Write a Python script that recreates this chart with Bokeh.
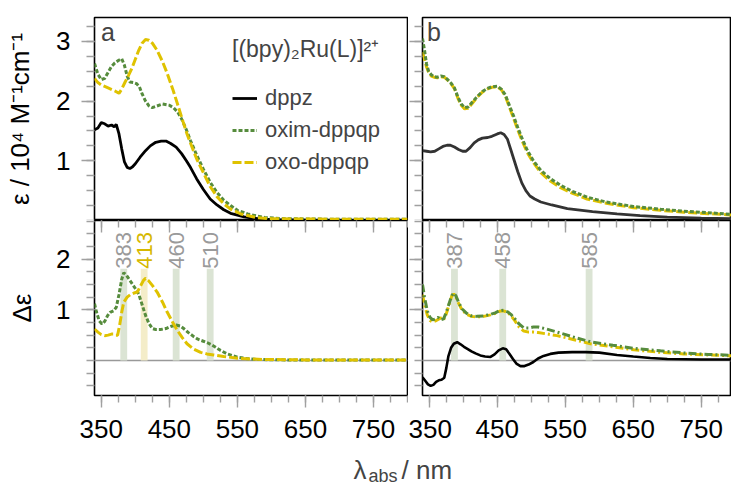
import numpy as np
from bokeh.plotting import figure
from bokeh.models import (Range1d, FixedTicker, LinearAxis, Legend, LegendItem,
                          Span, Label, ColumnDataSource)
from bokeh.layouts import column, row
from bokeh.embed import file_html
from bokeh.resources import INLINE
from bokeh.core.properties import value

# ---------------- data ----------------
# panel a : absorption, epsilon / 1e4 M^-1 cm^-1
wl_a_dppz = [340, 345, 350, 355, 360, 365, 369, 372, 376, 380, 384, 388, 392, 396, 400, 407, 415,
             422, 430, 438, 445, 452, 460, 468, 475, 481, 490, 500, 510, 520, 530, 540, 550, 560,
             580, 600, 650, 700, 750, 800]
eps_a_dppz = [1.52, 1.55, 1.64, 1.62, 1.58, 1.60, 1.57, 1.61, 1.45, 1.20, 0.98, 0.89, 0.87, 0.90,
              0.95, 1.06, 1.17, 1.25, 1.31, 1.33, 1.33, 1.29, 1.23, 1.12, 1.00, 0.89, 0.70, 0.52,
              0.36, 0.26, 0.18, 0.12, 0.09, 0.06, 0.03, 0.015, 0.005, 0.0, 0.0, 0.0]

wl_a_oxim = [340, 345, 350, 355, 360, 365, 370, 375, 380, 384, 388, 392, 397, 402, 406, 410, 415,
             420, 425, 430, 440, 450, 456, 462, 468, 475, 481, 490, 500, 510, 520, 530, 540, 550,
             565, 590, 620, 700, 800]
eps_a_oxim = [2.63, 2.45, 2.36, 2.38, 2.48, 2.58, 2.64, 2.68, 2.71, 2.60, 2.42, 2.32, 2.31, 2.29,
              2.24, 2.12, 2.00, 1.92, 1.89, 1.91, 1.95, 1.93, 1.89, 1.82, 1.70, 1.52, 1.34, 1.10,
              0.86, 0.64, 0.47, 0.34, 0.25, 0.17, 0.11, 0.05, 0.03, 0.02, 0.02]

wl_a_oxo = [340, 345, 350, 360, 370, 376, 380, 385, 390, 395, 400, 405, 410, 415, 420, 425, 432,
            440, 447, 455, 462, 470, 476, 485, 491, 500, 510, 520, 530, 540, 555, 580, 600, 700, 800]
eps_a_oxo = [2.38, 2.31, 2.27, 2.22, 2.17, 2.13, 2.20, 2.32, 2.43, 2.55, 2.70, 2.85, 2.97, 3.03,
             3.02, 2.97, 2.85, 2.66, 2.46, 2.20, 1.95, 1.66, 1.45, 1.18, 1.01, 0.80, 0.57, 0.40,
             0.28, 0.19, 0.11, 0.045, 0.03, 0.02, 0.02]

# panel b : absorption
wl_b_dppz = [340, 346, 352, 358, 364, 370, 376, 381, 387, 393, 399, 404, 410, 416, 422, 428, 436,
             442, 450, 455, 460, 465, 470, 475, 480, 486, 492, 498, 505, 514, 530, 553, 590, 626,
             660, 700, 750, 800]
eps_b_dppz = [1.17, 1.16, 1.15, 1.16, 1.20, 1.24, 1.26, 1.26, 1.23, 1.19, 1.16, 1.16, 1.22, 1.30,
              1.35, 1.38, 1.39, 1.41, 1.45, 1.47, 1.44, 1.36, 1.18, 1.00, 0.82, 0.63, 0.50, 0.41,
              0.36, 0.31, 0.26, 0.20, 0.15, 0.11, 0.08, 0.055, 0.04, 0.03]

wl_b = [340, 343, 346, 349, 353, 357, 362, 367, 372, 377, 382, 387, 392, 397, 402, 407, 413, 420,
        428, 435, 442, 450, 456, 462, 468, 474, 480, 487, 494, 503, 514, 528, 543, 560, 582, 610,
        650, 690, 724, 760, 800]
eps_b_oxim = [3.05, 2.85, 2.62, 2.50, 2.44, 2.41, 2.40, 2.42, 2.41, 2.36, 2.30, 2.22, 2.07, 1.95,
              1.89, 1.90, 1.98, 2.07, 2.16, 2.21, 2.24, 2.25, 2.20, 2.10, 1.92, 1.75, 1.56, 1.36,
              1.18, 1.00, 0.84, 0.70, 0.59, 0.49, 0.39, 0.31, 0.235, 0.19, 0.156, 0.13, 0.10]
eps_b_oxo = [2.82, 2.70, 2.57, 2.48, 2.42, 2.40, 2.39, 2.41, 2.40, 2.35, 2.29, 2.21, 2.05, 1.93,
             1.87, 1.88, 1.96, 2.06, 2.15, 2.20, 2.23, 2.24, 2.19, 2.08, 1.89, 1.71, 1.52, 1.32,
             1.14, 0.97, 0.80, 0.66, 0.55, 0.46, 0.36, 0.29, 0.215, 0.17, 0.14, 0.115, 0.09]

# panel c : CD, delta epsilon
wl_c_oxim = [340, 343, 347, 351, 355, 359, 363, 368, 372, 376, 380, 383, 387, 391, 395, 400, 405,
             410, 415, 420, 425, 430, 437, 445, 452, 460, 466, 472, 478, 485, 492, 500, 506, 512,
             518, 525, 535, 550, 565, 580, 620, 700, 800]
de_c_oxim = [1.12, 0.95, 0.78, 0.72, 0.77, 0.88, 0.95, 0.98, 1.05, 1.30, 1.60, 1.73, 1.68, 1.60,
             1.52, 1.42, 1.31, 1.10, 0.89, 0.73, 0.63, 0.61, 0.61, 0.63, 0.67, 0.70, 0.68, 0.62,
             0.55, 0.48, 0.42, 0.38, 0.35, 0.31, 0.26, 0.20, 0.13, 0.065, 0.035, 0.02, 0.012,
             0.01, 0.01]

wl_c_oxo = [340, 345, 350, 355, 360, 365, 368, 371, 374, 377, 380, 383, 388, 393, 398, 403, 408,
            412, 415, 419, 425, 432, 440, 447, 455, 462, 469, 476, 485, 496, 505, 515, 530, 550,
            570, 590, 650, 800]
de_c_oxo = [0.62, 0.56, 0.51, 0.49, 0.50, 0.52, 0.52, 0.50, 0.50, 0.70, 0.95, 1.15, 1.25, 1.30,
            1.33, 1.35, 1.48, 1.58, 1.62, 1.58, 1.48, 1.35, 1.15, 0.95, 0.75, 0.59, 0.45, 0.33,
            0.23, 0.16, 0.13, 0.11, 0.08, 0.045, 0.03, 0.02, 0.012, 0.01]

# panel d : CD
wl_d = [340, 343, 347, 351, 355, 359, 363, 367, 371, 375, 379, 383, 386, 389, 393, 398, 405, 412,
        420, 430, 440, 447, 453, 459, 465, 470, 476, 482, 489, 496, 503, 510, 520, 538, 560, 587,
        620, 651, 690, 724, 760, 800]
de_d_oxim = [1.50, 1.25, 0.98, 0.85, 0.80, 0.82, 0.85, 0.80, 0.82, 0.95, 1.12, 1.28, 1.33, 1.28,
             1.15, 1.02, 0.93, 0.88, 0.87, 0.88, 0.91, 0.94, 0.98, 0.99, 0.96, 0.91, 0.82, 0.72,
             0.64, 0.64, 0.66, 0.66, 0.63, 0.56, 0.47, 0.37, 0.30, 0.24, 0.19, 0.15, 0.12, 0.10]
de_d_oxo = [1.30, 1.10, 0.90, 0.79, 0.76, 0.78, 0.81, 0.84, 0.80, 0.92, 1.10, 1.27, 1.31, 1.26,
            1.13, 1.00, 0.91, 0.87, 0.86, 0.87, 0.90, 0.93, 0.97, 0.98, 0.95, 0.89, 0.78, 0.66,
            0.58, 0.56, 0.56, 0.55, 0.53, 0.49, 0.42, 0.33, 0.27, 0.21, 0.16, 0.13, 0.11, 0.09]

wl_d_dppz = [340, 344, 348, 352, 356, 360, 364, 368, 372, 375, 378, 382, 386, 391, 396, 401, 406,
             412, 418, 425, 432, 440, 446, 452, 458, 463, 468, 473, 478, 484, 490, 496, 503, 510,
             518, 528, 540, 560, 580, 600, 626, 650, 675, 700, 750, 800]
de_d_dppz = [-0.33, -0.40, -0.47, -0.50, -0.48, -0.42, -0.39, -0.38, -0.34, -0.15, 0.08, 0.25,
             0.33, 0.36, 0.32, 0.27, 0.23, 0.18, 0.14, 0.10, 0.08, 0.07, 0.12, 0.20, 0.24, 0.22,
             0.13, 0.03, -0.06, -0.11, -0.11, -0.08, -0.03, 0.04, 0.09, 0.13, 0.155, 0.165, 0.165,
             0.155, 0.11, 0.08, 0.05, 0.03, 0.02, 0.02]

# marked transitions
peaks_c = [383, 413, 460, 510]
peaks_c_text = ["383", "413", "460", "510"]
peaks_d = [387, 458, 585]
peaks_d_text = ["387", "458", "585"]

x_major = [350, 450, 550, 650, 750]
x_minor = [350 + 25 * i for i in range(19)]
ytop_major = [1, 2, 3]
ytop_minor = [0.25 * i for i in range(14)]
ybot_major = [1, 2]
ybot_minor = [0.25 * i for i in range(-2, 12)]

series_names = ["dppz", "oxim-dppqp", "oxo-dppqp"]

# ---------------- styling ----------------
FONT = "Liberation Sans"
GREEN = "#568c3d"
YELLOW = "#dfc200"
BLACK = "#000000"
DARK = "#333333"
TICK = "#a0a0a0"
BAND_G = "#dbe4d4"
BAND_Y = "#f4edc9"
LBL_G = "#9a9a9a"
LBL_Y = "#d6b800"
BAND_TOP = 1.81      # top of the marker bands (delta-epsilon units)
LABEL_MID = 2.17     # centre of the rotated marker labels


def panel(fw, fh, xr, yr, bl, br, bt, bb):
    p = figure(frame_width=fw, frame_height=fh, x_range=Range1d(*xr), y_range=Range1d(*yr),
               x_axis_location=None, y_axis_location=None, output_backend="svg",
               toolbar_location=None, min_border_left=bl, min_border_right=br,
               min_border_top=bt, min_border_bottom=bb)
    p.xgrid.visible = False
    p.ygrid.visible = False
    p.outline_line_color = "black"
    p.outline_line_width = 1.6
    p.outline_line_alpha = 1.0
    p.background_fill_color = "white"
    p.border_fill_color = "white"
    return p


def add_axis(p, side, major, minor, labels=True, tick_out=(13, 8), tick_in=(0, 0),
             standoff=10, title=None, title_standoff=10, title_size="25px"):
    ax = LinearAxis(ticker=FixedTicker(ticks=major, minor_ticks=minor))
    ax.axis_line_color = None
    ax.major_tick_line_color = TICK
    ax.minor_tick_line_color = TICK
    ax.major_tick_line_width = 1.4
    ax.minor_tick_line_width = 1.4
    ax.major_tick_out, ax.minor_tick_out = tick_out
    ax.major_tick_in, ax.minor_tick_in = tick_in
    if labels:
        ax.major_label_text_font = FONT
        ax.major_label_text_font_size = "26px"
        ax.major_label_text_color = "black"
        ax.major_label_standoff = standoff
    else:
        # tick marks only: labels are not painted and take no room
        ax.major_label_text_font_size = "0px"
        ax.major_label_text_color = None
        ax.major_label_standoff = 0
    if title:
        ax.axis_label = title
        ax.axis_label_text_font = FONT
        ax.axis_label_text_font_size = title_size
        ax.axis_label_text_font_style = "normal"
        ax.axis_label_text_color = "black"
        ax.axis_label_standoff = title_standoff
    p.add_layout(ax, side)
    return ax


XR = (340, 800)
XR_B = (340, 794.4)
YT = (0, 3.4)
YB = (-0.69, 2.76)

fa = panel(313, 203, XR, YT, 94, 1, 17, 0)
fb = panel(309, 203, XR_B, YT, 14, 0, 17, 0)
fc = panel(313, 175, XR, YB, 94, 1, 0, 54)
fd = panel(309, 175, XR_B, YB, 14, 0, 0, 54)

add_axis(fa, "left", ytop_major, ytop_minor, standoff=11,
         title="ε / 10⁴ M⁻¹cm⁻¹", title_standoff=18, title_size="26px")
add_axis(fb, "left", ytop_major, ytop_minor, labels=False)
add_axis(fc, "left", ybot_major, ybot_minor, standoff=11, title="Δε", title_standoff=16,
         title_size="26px")
add_axis(fd, "left", ybot_major, ybot_minor, labels=False)
for f in (fc, fd):
    add_axis(f, "below", x_major, x_minor, tick_out=(12, 7), standoff=12)
    add_axis(f, "above", x_major, x_minor, labels=False, tick_out=(0, 0), tick_in=(12, 7))

# ---- panel a
r_a1 = fa.line(wl_a_dppz, eps_a_dppz, line_color=BLACK, line_width=2.8)
r_a2 = fa.line(wl_a_oxim, eps_a_oxim, line_color=GREEN, line_width=3, line_dash="4 2")
r_a3 = fa.line(wl_a_oxo, eps_a_oxo, line_color=YELLOW, line_width=3, line_dash="9 3")

leg = Legend(items=[LegendItem(label=series_names[0], renderers=[r_a1]),
                    LegendItem(label=series_names[1], renderers=[r_a2]),
                    LegendItem(label=series_names[2], renderers=[r_a3])],
             location=(138, 45))
leg.title = "[(bpy)₂Ru(L)]²⁺"
leg.title_text_font = FONT
leg.title_text_font_size = "23px"
leg.title_text_font_style = "normal"
leg.title_standoff = 21
leg.label_text_font = FONT
leg.label_text_font_size = "22px"
leg.background_fill_alpha = 0
leg.border_line_color = None
leg.padding = 0
leg.margin = 0
leg.spacing = 6
leg.glyph_width = 25
leg.glyph_height = 20
leg.label_height = 20
leg.label_standoff = 8
fa.add_layout(leg)

fa.add_layout(Label(x=6.5, y=189, x_units="screen", y_units="screen", text="a",
                    text_font=FONT, text_font_size="25px", text_baseline="middle"))

# ---- panel b
fb.line(wl_b_dppz, eps_b_dppz, line_color=DARK, line_width=2.8)
fb.line(wl_b, eps_b_oxo, line_color=YELLOW, line_width=3, line_dash="9 3")
fb.line(wl_b, eps_b_oxim, line_color=GREEN, line_width=3, line_dash="4 2")
fb.add_layout(Label(x=4.5, y=189, x_units="screen", y_units="screen", text="b",
                    text_font=FONT, text_font_size="25px", text_baseline="middle"))

# ---- panel c
src_c = ColumnDataSource(dict(x=peaks_c, t=peaks_c_text,
                              band=[BAND_G, BAND_Y, BAND_G, BAND_G],
                              lab=[LBL_G, LBL_Y, LBL_G, LBL_G],
                              top=[BAND_TOP] * len(peaks_c),
                              mid=[LABEL_MID] * len(peaks_c)))
fc.vbar(x="x", width=10, bottom=0, top="top", fill_color="band", line_color=None, source=src_c)
fc.add_layout(Span(location=0, dimension="width", line_color="#999999", line_width=1.5,
                   level="underlay"))
fc.text(x="x", y="mid", text="t", angle=np.pi / 2, text_color="lab", text_font=value(FONT),
        text_font_size="22px", text_align="center", text_baseline="middle", source=src_c)
fc.line(wl_c_oxim, de_c_oxim, line_color=GREEN, line_width=3, line_dash="4 2")
fc.line(wl_c_oxo, de_c_oxo, line_color=YELLOW, line_width=3, line_dash="9 3")

# ---- panel d
src_d = ColumnDataSource(dict(x=peaks_d, t=peaks_d_text, band=[BAND_G] * 3, lab=[LBL_G] * 3,
                              top=[BAND_TOP] * len(peaks_d), mid=[LABEL_MID] * len(peaks_d)))
fd.vbar(x="x", width=10, bottom=0, top="top", fill_color="band", line_color=None, source=src_d)
fd.add_layout(Span(location=0, dimension="width", line_color="#999999", line_width=1.5,
                   level="underlay"))
fd.text(x="x", y="mid", text="t", angle=np.pi / 2, text_color="lab", text_font=value(FONT),
        text_font_size="22px", text_align="center", text_baseline="middle", source=src_d)
fd.line(wl_d_dppz, de_d_dppz, line_color=BLACK, line_width=2.6)
fd.line(wl_d, de_d_oxo, line_color=YELLOW, line_width=3, line_dash="8 3 2 3")
fd.line(wl_d, de_d_oxim, line_color=GREEN, line_width=3, line_dash="8 3 2 3")

# ---- x-axis title strip (spans both columns)
strip = figure(width=731, height=37, x_range=Range1d(0, 1), y_range=Range1d(0, 1),
               x_axis_location=None, y_axis_location=None, output_backend="svg",
               toolbar_location=None, min_border_left=0, min_border_right=0,
               min_border_top=0, min_border_bottom=0)
strip.outline_line_color = None
strip.xgrid.visible = False
strip.ygrid.visible = False
strip.add_layout(Label(x=353, y=17, x_units="screen", y_units="screen", text="λ",
                       text_font=FONT, text_font_size="26px", text_baseline="middle"))
strip.add_layout(Label(x=368, y=11, x_units="screen", y_units="screen", text="abs",
                       text_font=FONT, text_font_size="18px", text_baseline="middle"))
strip.add_layout(Label(x=401, y=17, x_units="screen", y_units="screen", text="/ nm",
                       text_font=FONT, text_font_size="26px", text_baseline="middle"))

layout = column(row(fa, fb, spacing=0), row(fc, fd, spacing=0), strip, spacing=0)
open("out.html", "w").write(file_html(layout, INLINE))
